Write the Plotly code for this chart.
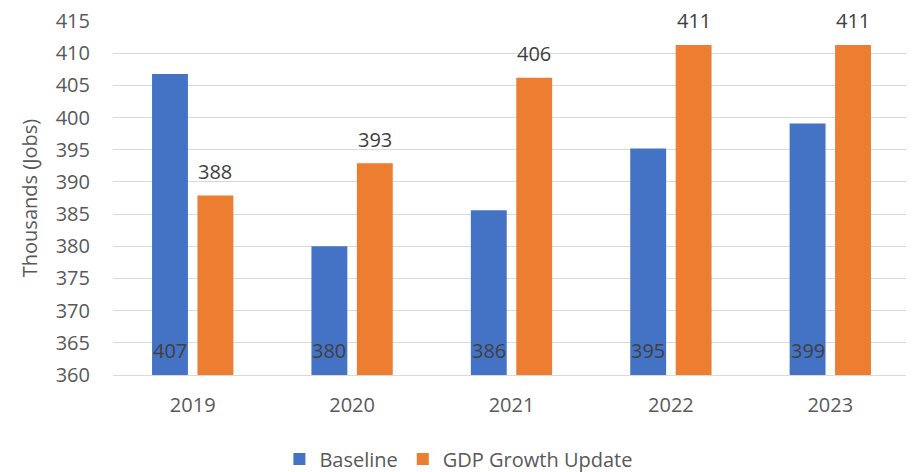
import plotly.graph_objects as go

years = ["2019", "2020", "2021", "2022", "2023"]
baseline = [406.8, 380.0, 385.6, 395.2, 399.1]
gdp_update = [387.9, 392.9, 406.2, 411.3, 411.3]
baseline_labels = ["407", "380", "386", "395", "399"]
gdp_labels = ["388", "393", "406", "411", "411"]
y_min, y_max = 360, 415

FONT = "Open Sans, sans-serif"
TXT = "#404040"
AX = "#595959"
BARGAP = 0.43
GROUPGAP = 0.21

fig = go.Figure()
fig.add_trace(go.Bar(
    name="Baseline", x=years, y=[v - y_min for v in baseline], base=y_min,
    marker=dict(color="#4472C4", line=dict(width=0)),
    customdata=baseline, hovertemplate="%{x}: %{customdata}<extra>Baseline</extra>",
))
fig.add_trace(go.Bar(
    name="GDP Growth Update", x=years, y=[v - y_min for v in gdp_update], base=y_min,
    marker=dict(color="#ED7D31", line=dict(width=0)),
    customdata=gdp_update, hovertemplate="%{x}: %{customdata}<extra>GDP Growth Update</extra>",
))

off = (1 - BARGAP) / 4
annotations = []
for i, (b, lb) in enumerate(zip(baseline, baseline_labels)):
    annotations.append(dict(x=i - off, y=y_min, xref="x", yref="y", text=lb,
                            showarrow=False, yanchor="middle", yshift=25,
                            font=dict(family=FONT, size=20, color=TXT)))
for i, (g, lg) in enumerate(zip(gdp_update, gdp_labels)):
    annotations.append(dict(x=i + off, y=g, xref="x", yref="y", text=lg,
                            showarrow=False, yanchor="middle", yshift=24,
                            font=dict(family=FONT, size=20, color=TXT)))

fig.update_layout(
    width=906, height=464,
    margin=dict(l=105, r=4, t=13, b=97, autoexpand=False),
    paper_bgcolor="white", plot_bgcolor="white",
    barmode="group", bargap=BARGAP, bargroupgap=GROUPGAP,
    font=dict(family=FONT, size=20, color=AX),
    showlegend=True,
    legend=dict(orientation="h", x=0.434, xanchor="center",
                y=-0.182, yanchor="top",
                font=dict(size=20, color=AX), itemwidth=30, tracegroupgap=0),
    annotations=annotations,
    xaxis=dict(type="category", showgrid=False, showline=True, linecolor="#d9d9d9", linewidth=1,
               ticks="", ticklabelstandoff=12, tickfont=dict(size=20, color=AX)),
    yaxis=dict(range=[y_min, y_max + 0.02], tick0=y_min, dtick=5, showgrid=True,
               gridcolor="#d9d9d9", gridwidth=1, zeroline=False, showline=False,
               ticks="", ticklabelstandoff=22, ticklabeloverflow="allow",
               tickfont=dict(size=20, color=AX),
               title=dict(text="Thousands (Jobs)", font=dict(size=20, color=AX), standoff=12)),
)
fig.write_html("out.html")
